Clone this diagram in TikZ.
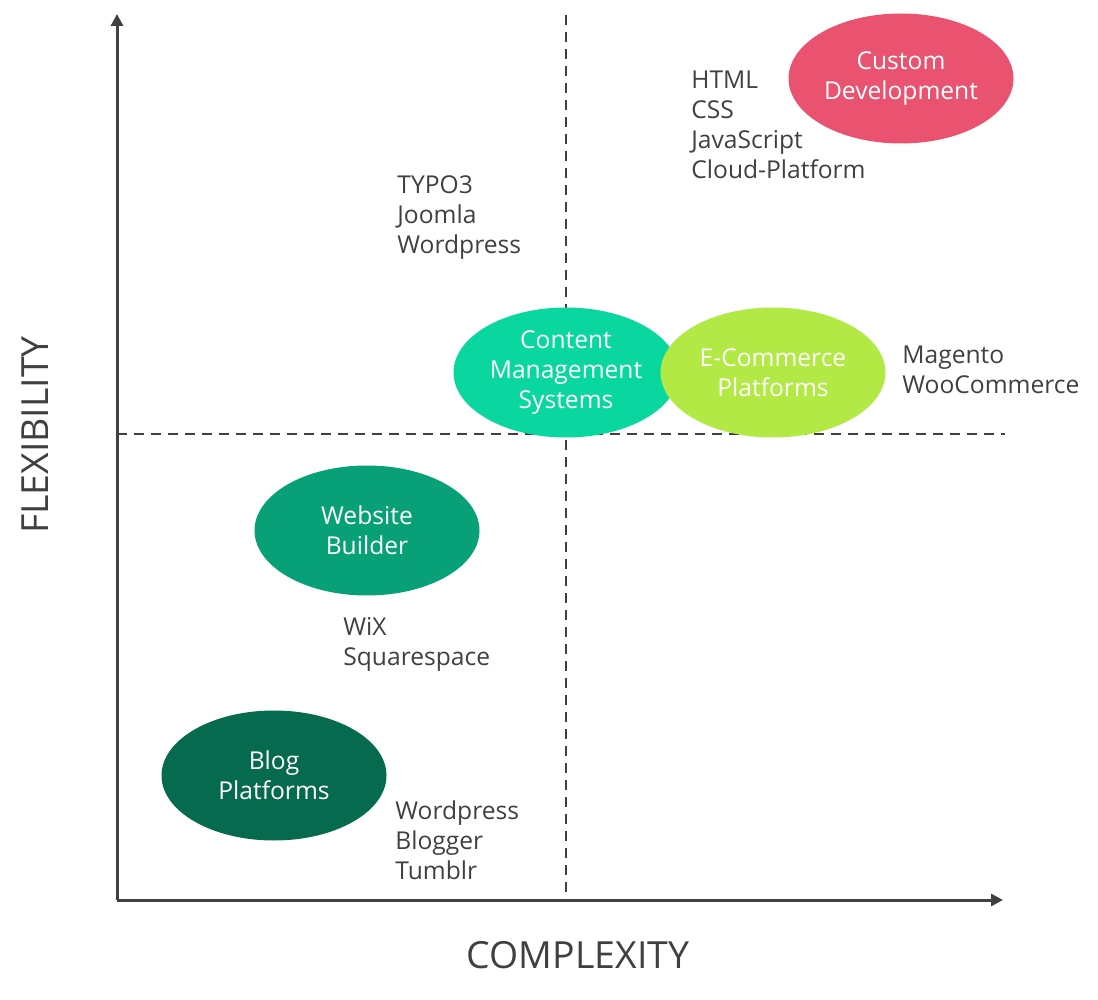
\documentclass[tikz,border=0pt]{standalone}
\usepackage{fontspec}
\setmainfont{Open Sans}
\usetikzlibrary{arrows.meta, positioning, shapes.geometric}

\definecolor{axisgray}{HTML}{404040}
\definecolor{customred}{HTML}{E9536F}
\definecolor{cmsgreen}{HTML}{0AD69F}
\definecolor{shopgreen}{HTML}{B2E944}
\definecolor{buildgreen}{HTML}{07A077}
\definecolor{bloggreen}{HTML}{066A4E}

\tikzset{
    field/.style={ellipse, minimum width=112.5pt, minimum height=65pt, inner sep=0pt,
        text=white, align=center, font=\fontsize{12.3}{15}\selectfont},
    tools/.style={anchor=west, align=left, inner sep=0pt, text=axisgray,
        font=\fontsize{12.3}{15}\selectfont},
    axislabel/.style={text=axisgray, inner sep=0pt, font=\fontsize{18.7}{22}\selectfont}
}

\begin{document}
\begin{tikzpicture}[
        x=0.5pt, y=-0.5pt,
        >={Triangle[length=6pt, width=6pt]}
    ]
    \useasboundingbox (0,0) rectangle (1098,1000);

    % Quadrant lines
    \draw[axisgray, line width=1.2pt, dash pattern=on 5pt off 3.5pt] (566,15) -- (566,900);
    \draw[axisgray, line width=1.2pt, dash pattern=on 5pt off 3.5pt] (117,434) -- (1005,434);

    % Axes
    \coordinate (origin) at (117,900);
    \coordinate (ytip) at (117,14);
    \coordinate (xtip) at (1003,900);
    \draw[->, axisgray, line width=1.5pt] (origin) -- (ytip);
    \draw[->, axisgray, line width=1.5pt] (origin) -- (xtip);

    \node[axislabel] (xlab) at (578,955) {COMPLEXITY};
    \node[axislabel, rotate=90] (ylab) at (35,435) {FLEXIBILITY};

    % Solution fields
    \node[field, fill=customred] (custom) at (901,78.5) {Custom\\Development};
    \node[field, fill=cmsgreen] (cms) at (566,372.5) {Content\\Management\\Systems};
    \node[field, fill=shopgreen] (shop) at (773,372.5) {E-Commerce\\Platforms};
    \node[field, fill=buildgreen] (builder) at (367,530.5) {Website\\Builder};
    \node[field, fill=bloggreen] (blog) at (274,775.5) {Blog\\Platforms};

    % Example tools
    \node[tools] (customtools) at (691,124.5) {HTML\\CSS\\JavaScript\\Cloud-Platform};
    \node[tools] (cmstools) at (397,217.5) {TYPO3\\Joomla\\Wordpress};
    \node[tools] (shoptools) at (902,369.5) {Magento\\WooCommerce};
    \node[tools] (buildertools) at (343,644.5) {WiX\\Squarespace};
    \node[tools] (blogtools) at (395,840.5) {Wordpress\\Blogger\\Tumblr};

\end{tikzpicture}
\end{document}
